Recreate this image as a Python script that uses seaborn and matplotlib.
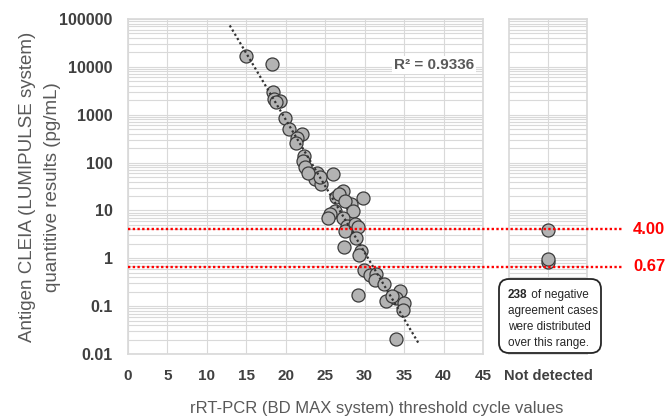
import numpy as np
import pandas as pd
import matplotlib
matplotlib.use('Agg')
import matplotlib.pyplot as plt
import seaborn as sns
from matplotlib.patches import FancyBboxPatch
from matplotlib.lines import Line2D
from matplotlib.transforms import blended_transform_factory
from matplotlib.ticker import LogLocator, NullFormatter

sns.set_theme(style='white')
plt.rcParams['font.family'] = ['Liberation Sans', 'DejaVu Sans']

# rRT-PCR Ct values vs antigen concentration (pg/mL)
ct_values = [15.0, 18.2, 18.4, 18.5, 19.3, 18.8, 19.9, 20.4, 22.1, 21.4,
             21.25, 22.3, 22.2, 22.4, 23.9, 26.0, 23.7, 24.5, 24.3, 22.85,
             26.4, 27.3, 28.3, 29.8, 26.7, 27.5, 28.5, 26.2, 25.6, 25.4,
             27.3, 27.7, 28.8, 27.5, 29.2, 28.9, 27.4, 29.6, 29.3, 29.9,
             30.7, 31.5, 31.3, 32.5, 29.2, 32.7, 34.5, 34.0, 33.5, 35.0,
             34.9, 34.0]
antigen_values = [17000, 11200, 3000, 2100, 1900, 1800, 850, 500, 390, 320,
                  260, 140, 107, 80, 61, 57, 45, 36, 51, 61,
                  19.4, 25, 13.4, 18.5, 21.7, 15.7, 9.7, 9.7, 8.3, 7.1,
                  7.1, 4.7, 5.1, 3.7, 4.4, 2.6, 1.7, 1.4, 1.15, 0.56,
                  0.45, 0.48, 0.36, 0.29, 0.17, 0.125, 0.21, 0.15, 0.16, 0.119,
                  0.083, 0.021]
nd_label = 'Not detected'
nd_antigen = [3.9, 0.85, 0.95]

cutoffs = [4.00, 0.67]
cutoff_labels = ['4.00', '0.67']
x_ticks = [0, 5, 10, 15, 20, 25, 30, 35, 40, 45]
y_ticks = [0.01, 0.1, 1, 10, 100, 1000, 10000, 100000]
y_tick_labels = ['0.01', '0.1', '1', '10', '100', '1000', '10000', '100000']
r2_text = 'R² = 0.9336'
trend_range = (12.9, 36.8)
note_lines = ['of negative', 'agreement cases', 'were distributed', 'over this range.']
note_count = '238'

df = pd.DataFrame({'ct': ct_values, 'antigen': antigen_values})
nd = pd.DataFrame({'x': [nd_label] * len(nd_antigen), 'antigen': nd_antigen})

grid_c = '#d9d9d9'
text_c = '#404040'
label_c = '#595959'

fig = plt.figure(figsize=(6.67, 4.17), dpi=100)
ax = fig.add_axes([0.1919, 0.1511, 0.5322, 0.8034])
ax2 = fig.add_axes([0.7631, 0.1511, 0.117, 0.8034])

pt_kw = dict(s=88, color='#b3b3b3', edgecolor='#3a3a3a', linewidth=0.9, zorder=3)
sns.scatterplot(data=df, x='ct', y='antigen', ax=ax, **pt_kw)
sns.scatterplot(data=nd, x='x', y='antigen', ax=ax2, **pt_kw)

for a in (ax, ax2):
    a.set_yscale('log')
    a.set_ylim(0.01, 100000)
    a.yaxis.set_minor_locator(LogLocator(base=10, subs=range(2, 10), numticks=20))
    a.yaxis.set_minor_formatter(NullFormatter())
    a.grid(which='both', axis='y', color=grid_c, lw=0.8)
    a.grid(which='major', axis='x', color=grid_c, lw=0.8)
    a.set_axisbelow(True)
    a.tick_params(which='both', length=0)
    for s in a.spines.values():
        s.set_color(grid_c)
    a.set_xlabel('')
    a.set_ylabel('')

ax.set_xlim(0, 45)
ax.set_xticks(x_ticks)
ax.set_xticklabels([str(t) for t in x_ticks], fontweight='bold', fontsize=11, color=text_c)
ax.set_yticks(y_ticks)
ax.set_yticklabels(y_tick_labels, fontweight='bold', fontsize=11.5, color=text_c)
ax.tick_params(axis='x', pad=11)
ax.tick_params(axis='y', pad=11)

ax2.set_xlim(-1, 1)
ax2.set_xticks([0])
ax2.set_xticklabels([nd_label], fontweight='bold', fontsize=10.5, color=text_c)
ax2.tick_params(axis='x', pad=11)
ax2.set_yticks(y_ticks)
ax2.set_yticklabels([])

# exponential trend line (log-linear fit)
coef = np.polyfit(df['ct'], np.log10(df['antigen']), 1)
xs = np.linspace(trend_range[0], trend_range[1], 100)
ax.plot(xs, 10 ** np.polyval(coef, xs), ls=(0, (1, 1.2)), color='#333333', lw=1.6, zorder=4)

ax.text(0.862, 0.863, r2_text, transform=ax.transAxes, ha='center', va='center',
        fontsize=11, fontweight='bold', color=label_c,
        bbox=dict(fc='white', ec='none', pad=1.5), zorder=5)

# cut-off lines across both panels
blend_fig = blended_transform_factory(fig.transFigure, ax.transData)
for c, lab in zip(cutoffs, cutoff_labels):
    fig.add_artist(Line2D([128 / 667, 623 / 667], [c, c], transform=blend_fig, color='red',
                          ls=(0, (1, 1)), lw=1.7, zorder=6))
    fig.text(633 / 667, 0, lab, transform=blend_fig, color='red', fontweight='bold',
             fontsize=12, ha='left', va='center').set_y(c)

# note box
box = FancyBboxPatch((4.99, 0.64), 1.02, 0.74, boxstyle='round,pad=0,rounding_size=0.1',
                     transform=fig.dpi_scale_trans, fc='white', ec='#262626', lw=1.3, zorder=10)
fig.add_artist(box)
t0 = fig.text(5.08 / 6.67, 1 - 295 / 417, note_count, fontweight='bold', fontsize=8.5,
              color='#262626', va='center', ha='left', zorder=11)
fig.canvas.draw()
bb = t0.get_window_extent()
fig.text(bb.x1 / fig.bbox.width, 1 - 295 / 417, ' ' + note_lines[0], fontsize=8.5,
         color='#262626', va='center', ha='left', zorder=11)
for i, line in enumerate(note_lines[1:]):
    fig.text(5.08 / 6.67, 1 - (311 + 16 * i) / 417, line, fontsize=8.5,
             color='#262626', va='center', ha='left', zorder=11)

fig.text(0.565, 0.02, 'rRT-PCR (BD MAX system) threshold cycle values',
         ha='center', va='center', fontsize=12, color=label_c)
fig.text(0.06, 0.5516, 'Antigen CLEIA (LUMIPULSE system)\nquantitive results (pg/mL)',
         rotation=90, ha='center', va='center', fontsize=13.5, color=label_c,
         multialignment='center', linespacing=1.55)

fig.savefig('out.png', dpi=100)
